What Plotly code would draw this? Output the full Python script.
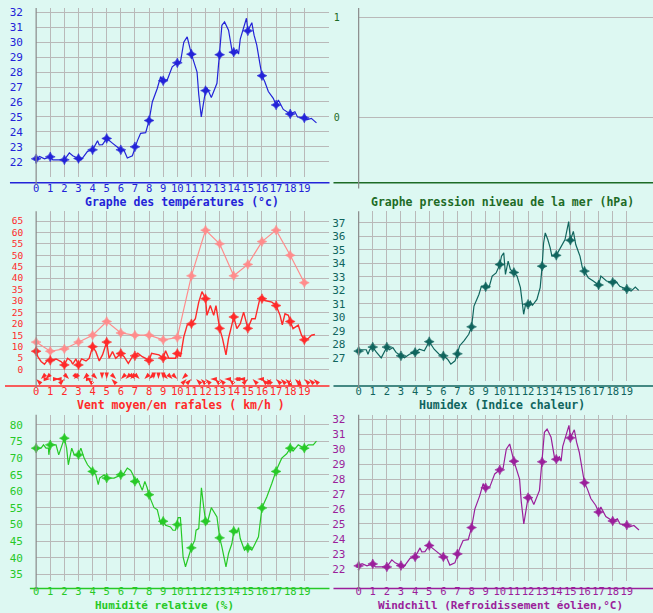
import plotly.graph_objects as go

# ---------------- data ----------------
hours = list(range(20))
hour_labels = [str(h) for h in hours]

temp_t = [0, 0.24, 0.59, 0.82, 1.0, 1.18, 2.0, 2.35, 2.59, 3.0, 3.17, 3.64, 4.0, 4.35, 4.47, 4.7, 5.0, 5.4, 5.76, 6.0,
          6.23, 6.46, 6.82, 7.0, 7.17, 7.4, 7.76, 8.0, 8.23, 8.58, 8.82, 9.0, 9.3, 9.64, 10.0, 10.23, 10.46, 10.7, 11.0,
          11.4, 11.52, 11.7, 11.87, 12.0, 12.1, 12.41, 12.81, 13.0, 13.16, 13.35, 13.63, 13.87, 14.0, 14.22, 14.34,
          14.46, 14.69, 14.9, 15.0, 15.1, 15.28, 15.44, 15.63, 15.87, 16.0, 16.2, 16.45, 16.8, 17.0, 17.16, 17.51,
          18.0, 18.33, 18.52, 19.0, 19.16, 19.5, 19.86]
temp_v = [22.2, 22.35, 22.2, 22.3, 22.33, 22.13, 22.13, 22.6, 22.4, 22.22, 22.1, 22.7, 22.8, 23.4, 23.13, 23.15, 23.56,
          23.25, 22.95, 22.8, 22.75, 22.25, 22.4, 23.0, 23.4, 23.9, 23.95, 24.76, 26.0, 26.9, 27.7, 27.42, 27.5, 28.35,
          28.62, 28.7, 30.0, 30.35, 29.2, 28.0, 26.5, 25.0, 26.2, 26.76, 26.96, 26.3, 27.25, 29.16, 31.13, 31.35, 30.8,
          29.47, 29.33, 29.5, 29.2, 30.2, 30.9, 31.6, 30.76, 31.0, 31.3, 30.47, 29.8, 28.47, 27.76, 27.35, 26.7, 26.24,
          25.8, 26.13, 25.5, 25.2, 25.35, 25.0, 24.93, 24.8, 24.9, 24.6]
temp_hourly = [22.2, 22.33, 22.13, 22.22, 22.8, 23.56, 22.8, 23.0, 24.76, 27.42, 28.62, 29.2, 26.76, 29.16, 29.33,
               30.76, 27.76, 25.8, 25.2, 24.93]

pressure_ticks = [0, 1]

wind_t = [0, 0.12, 0.35, 0.59, 0.82, 1.0, 1.41, 1.76, 2.0, 2.23, 2.47, 2.59, 2.82, 3.0, 3.22, 3.53, 3.76, 4.0, 4.23,
          4.47, 4.7, 5.0, 5.17, 5.41, 5.64, 6.0, 6.23, 6.53, 6.82, 7.0, 7.2, 7.52, 7.76, 8.0, 8.18, 8.7, 9.0, 9.17, 9.4,
          9.87, 10.0, 10.23, 10.46, 10.7, 11.0, 11.28, 11.52, 11.75, 12.0, 12.1, 12.34, 12.58, 12.74, 13.0, 13.2,
          13.45, 13.63, 13.87, 14.0, 14.22, 14.46, 14.7, 14.86, 15.0, 15.28, 15.52, 15.87, 16.0, 16.2, 16.7, 17.0,
          17.28, 17.44, 17.63, 17.87, 18.0, 18.2, 18.57, 18.8, 19.0, 19.28, 19.51, 19.75]
wind_v = [8, 5.6, 3.5, 2.3, 4.2, 4, 4.6, 3.5, 2, 4.9, 3.75, 2.3, 4.6, 2, 4.6, 3.75, 4.9, 10, 7.8, 3.75, 6.4, 12, 4.9,
          7.8, 4.9, 7, 5.6, 2.7, 5.6, 6, 7.1, 5.6, 4.9, 4, 7.1, 6.4, 5, 8.2, 4.9, 4.9, 7, 5.6, 14.3, 19.4, 20, 22.2,
          29.5, 34.1, 31, 23.7, 28, 23.7, 28, 18, 13.6, 6.4, 13.6, 19.4, 23, 17.9, 20.1, 25.1, 21.5, 18, 22.2, 22.2,
          31.6, 31, 30.2, 29.5, 28, 23.7, 19.6, 24.4, 23.7, 21, 17.9, 19.4, 15, 13, 13.6, 15, 15.3]
wind_hourly = [8, 4, 2, 2, 10, 12, 7, 6, 4, 5, 7, 20, 31, 18, 23, 18, 31, 28, 21, 13]
gust_hourly = [12, 8, 9, 12, 15, 21, 16, 15, 15, 13, 14, 41, 61, 55, 41, 46, 56, 61, 50, 38]
wind_ticks = [0, 5, 10, 15, 20, 25, 30, 35, 40, 45, 50, 55, 60, 65]
# wind direction every 20 minutes (arrow glyph = direction of the drawn arrow)
wind_dir_t = [i / 3 for i in range(60)]
wind_dir = list("↖↙↙→←→↗↘↙↘↙↖→↘↓↓↖↘↙↙↙↘↘↙↙↓↓↓↘↘↘↙↗↗↖↖↖←↖↖←↖←←→↗↖←↖↖↗↖↖↖↑↖↑↖↖↖↖")
arrow_angle = {"↑": 0, "↗": 45, "→": 90, "↘": 135, "↓": 180, "↙": 225, "←": 270, "↖": 315}

hx_t = [0, 0.19, 0.54, 0.66, 0.78, 1.0, 1.24, 1.6, 2.0, 2.18, 2.42, 2.65, 3.0, 3.24, 3.6, 4.0, 4.3, 4.65, 5.0, 5.35,
        5.7, 6.0, 6.3, 6.53, 6.83, 7.0, 7.16, 7.46, 7.8, 8.0, 8.17, 8.52, 8.7, 9.0, 9.23, 9.46, 9.74, 10.0, 10.12,
        10.28, 10.4, 10.59, 10.75, 11.0, 11.22, 11.46, 11.69, 11.8, 12.0, 12.16, 12.32, 12.63, 12.86, 13.0, 13.1,
        13.22, 13.4, 13.57, 13.69, 14.0, 14.15, 14.39, 14.62, 14.88, 15.0, 15.21, 15.38, 15.68, 15.85, 16.0, 16.27,
        16.62, 17.0, 17.16, 17.56, 18.0, 18.15, 18.5, 19.0, 19.3, 19.6, 19.84]
hx_v = [27.5, 27.6, 27.6, 27.27, 27.6, 27.8, 27.44, 27.0, 27.8, 27.6, 27.76, 27.4, 27.15, 27.0, 27.27, 27.4, 27.64,
        27.52, 28.2, 27.64, 27.27, 27.15, 26.9, 26.53, 26.78, 27.3, 27.9, 28.26, 28.75, 29.3, 30.84, 31.7, 32.32, 32.27,
        32.2, 33.06, 33.3, 33.92, 34.54, 34.78, 33.18, 34.17, 33.55, 33.33, 33.06, 32.2, 30.23, 30.84, 30.97, 31.2,
        30.9, 31.33, 32.2, 33.8, 35.5, 36.26, 35.77, 35.15, 34.54, 34.6, 34.9, 35.4, 35.77, 37.1, 35.72, 36.38, 35.4,
        34.54, 33.67, 33.43, 32.94, 32.7, 32.4, 33.06, 32.7, 32.6, 32.76, 32.3, 32.1, 31.95, 32.25, 32.0]
hx_hourly = [27.5, 27.8, 27.8, 27.15, 27.4, 28.2, 27.15, 27.3, 29.3, 32.27, 33.92, 33.33, 30.97, 33.8, 34.6, 35.72,
             33.43, 32.4, 32.6, 32.1]

rh_t = [0, 0.35, 0.52, 0.7, 0.87, 0.9, 1.0, 1.41, 1.6, 1.83, 2.0, 2.16, 2.28, 2.52, 2.7, 3.0, 3.17, 3.4, 3.64, 4.0,
        4.23, 4.4, 4.5, 4.82, 5.0, 5.52, 6.0, 6.2, 6.46, 6.7, 6.86, 7.0, 7.17, 7.4, 7.52, 7.7, 7.87, 8.0, 8.35, 8.58,
        8.7, 8.84, 9.0, 9.17, 9.52, 9.69, 9.87, 10.06, 10.22, 10.34, 10.41, 10.58, 10.77, 11.0, 11.24, 11.33, 11.52,
        11.64, 11.71, 11.87, 12.0, 12.1, 12.22, 12.41, 12.81, 13.0, 13.16, 13.45, 13.63, 13.87, 14.0, 14.22, 14.34,
        14.46, 14.76, 15.0, 15.28, 15.5, 15.75, 16.0, 16.34, 16.69, 17.0, 17.4, 17.75, 18.0, 18.2, 18.57, 19.0, 19.28,
        19.63, 19.86]
rh_v = [73, 73, 74, 73, 73, 71, 74, 74, 71, 74, 76, 73, 68, 73, 71, 71, 73, 70, 68, 66.2, 65, 62, 64, 65, 64, 64, 65,
        65.3, 67, 66.3, 65, 63.1, 63.8, 61.8, 60.3, 63, 61, 58.8, 55.1, 54.5, 52.3, 50, 51.3, 49.8, 49.3, 48.3, 48.3,
        52.1, 52.1, 45.8, 40.3, 37.3, 39.8, 43.1, 45.3, 48.3, 48.8, 58.3, 61.1, 55.3, 51.1, 50.1, 52.3, 55.1, 52.3,
        46.1, 43.3, 37.3, 41.3, 44.3, 48.1, 47.5, 49.1, 45.8, 42.3, 43.2, 42.3, 44.3, 46.3, 55.1, 58.3, 62.3, 66.2, 70,
        71.3, 73, 72.1, 74, 73, 74, 74, 75.1]
rh_hourly = [73, 74, 76, 71, 66, 64, 65, 63, 59, 51, 50, 43, 51, 46, 48, 43, 55, 66, 73, 73]
rh_ticks = [35, 40, 45, 50, 55, 60, 65, 70, 75, 80]

wc_t = [0, 0.24, 0.59, 0.82, 1.0, 1.18, 2.0, 2.35, 2.59, 3.0, 3.17, 3.64, 4.0, 4.35, 4.47, 4.7, 5.0, 5.4, 5.76, 6.0,
        6.23, 6.46, 6.82, 7.0, 7.17, 7.4, 7.76, 8.0, 8.23, 8.58, 8.82, 9.0, 9.3, 9.64, 10.0, 10.23, 10.46, 10.7, 11.0,
        11.4, 11.52, 11.7, 11.87, 12.0, 12.1, 12.41, 12.81, 13.0, 13.16, 13.35, 13.63, 13.87, 14.0, 14.22, 14.34,
        14.46, 14.69, 14.9, 15.0, 15.1, 15.28, 15.44, 15.63, 15.87, 16.0, 16.2, 16.45, 16.8, 17.0, 17.16, 17.51,
        18.0, 18.33, 18.52, 19.0, 19.16, 19.5, 19.86]
wc_v = [22.2, 22.35, 22.2, 22.3, 22.33, 22.13, 22.13, 22.6, 22.4, 22.22, 22.1, 22.7, 22.8, 23.4, 23.13, 23.15, 23.56,
        23.25, 22.95, 22.8, 22.75, 22.25, 22.4, 23.0, 23.4, 23.9, 23.95, 24.76, 26.0, 26.9, 27.7, 27.42, 27.5, 28.35,
        28.62, 28.7, 30.0, 30.35, 29.2, 28.0, 26.5, 25.0, 26.2, 26.76, 26.96, 26.3, 27.25, 29.16, 31.13, 31.35, 30.8,
        29.47, 29.33, 29.5, 29.2, 30.2, 30.9, 31.6, 30.76, 31.0, 31.3, 30.47, 29.8, 28.47, 27.76, 27.35, 26.7, 26.24,
        25.8, 26.13, 25.5, 25.2, 25.35, 25.0, 24.93, 24.8, 24.9, 24.6]
wc_hourly = [22.2, 22.33, 22.13, 22.22, 22.8, 23.56, 22.8, 23.0, 24.76, 27.42, 28.62, 29.2, 26.76, 29.16, 29.33,
             30.76, 27.76, 25.8, 25.2, 24.93]

deg_ticks_a = [22, 23, 24, 25, 26, 27, 28, 29, 30, 31, 32]
hx_ticks = [27, 28, 29, 30, 31, 32, 33, 34, 35, 36, 37]

# ---------------- styling / layout helpers ----------------
W, H = 653, 613
BG = "#ddf8f2"
GRID = "#b9b9b9"
AXGRAY = "#8a8a8a"
FONT = "DejaVu Sans Mono"
HOUR_PX = 14.18

C_TEMP = "#2323d8"
C_PRES = "#1d6b26"
C_WIND = "#ff2a2a"
C_GUST = "#ff8c8c"
C_HX = "#10655e"
C_RH = "#27c927"
C_WC = "#9b1f9b"


def px(x):
    return x / W


def py(y):
    return 1 - y / H


fig = go.Figure()

# panel definitions: (axis suffix, x dom left, x dom right, y top px, y bottom px, ref value, ref px, px per unit)
panels = {
    "A": ("", 33.3, 328, 6, 176, 32, 10.3, 15.0),
    "B": ("2", 357.3, 653, 6, 176, 1, 16.0, 100.0),
    "C": ("3", 33.3, 328, 210, 380, 0, 368.7, 2.292),
    "D": ("4", 357.3, 653, 210, 380, 37, 221.7, 13.53),
    "E": ("5", 33.3, 328, 414, 581, 80, 424.3, 3.333),
    "F": ("6", 357.3, 653, 414, 581, 32, 418.7, 15.0),
}


def line_trace(key, x, y, color, width=1.2):
    s = panels[key][0]
    return go.Scatter(x=x, y=y, mode="lines", line=dict(color=color, width=width),
                      xaxis="x" + s, yaxis="y" + s, cliponaxis=False, hoverinfo="skip", showlegend=False)


def marker_trace(key, x, y, color, mode="markers", lw=1.2):
    s = panels[key][0]
    return go.Scatter(x=x, y=y, mode=mode, line=dict(color=color, width=lw),
                      marker=dict(symbol="star-diamond", size=7, color=color, line=dict(width=0.6, color=color)),
                      xaxis="x" + s, yaxis="y" + s, cliponaxis=False, hoverinfo="skip", showlegend=False)


# Temperature
fig.add_trace(line_trace("A", temp_t, temp_v, C_TEMP))
fig.add_trace(marker_trace("A", hours, temp_hourly, C_TEMP))
# Pressure (empty)
fig.add_trace(go.Scatter(x=[], y=[], xaxis="x2", yaxis="y2", showlegend=False))
# Wind
fig.add_trace(marker_trace("C", hours, gust_hourly, C_GUST, mode="lines+markers", lw=1.2))
fig.add_trace(line_trace("C", wind_t, wind_v, C_WIND, width=1.4))
fig.add_trace(marker_trace("C", hours, wind_hourly, C_WIND))
fig.add_trace(go.Scatter(x=wind_dir_t, y=[-4.2] * len(wind_dir_t), mode="markers",
                         marker=dict(symbol="arrow", size=7, color=C_WIND,
                                     angle=[arrow_angle[d] for d in wind_dir], line=dict(width=0)),
                         xaxis="x3", yaxis="y3", cliponaxis=False, hoverinfo="skip", showlegend=False))
# Humidex
fig.add_trace(line_trace("D", hx_t, hx_v, C_HX))
fig.add_trace(marker_trace("D", hours, hx_hourly, C_HX))
# Humidity
fig.add_trace(line_trace("E", rh_t, rh_v, C_RH))
fig.add_trace(marker_trace("E", hours, rh_hourly, C_RH))
# Windchill
fig.add_trace(line_trace("F", wc_t, wc_v, C_WC))
fig.add_trace(marker_trace("F", hours, wc_hourly, C_WC))

ytick_spec = {
    "A": (deg_ticks_a, C_TEMP),
    "B": (pressure_ticks, C_PRES),
    "C": (wind_ticks, C_WIND),
    "D": (hx_ticks, C_HX),
    "E": (rh_ticks, C_RH),
    "F": (deg_ticks_a, C_WC),
}
xcolor = {"A": C_TEMP, "B": C_PRES, "C": C_WIND, "D": C_HX, "E": C_RH, "F": C_WC}
ylen = {"A": 10, "B": 16, "C": 10, "D": 10, "E": 10, "F": 10}
yfs = {"A": 11, "B": 10, "C": 9.5, "D": 11, "E": 11, "F": 11}
xlen = {"A": 1, "B": 1, "C": 1, "D": 1, "E": 0, "F": 0}

layout = dict(width=W, height=H, margin=dict(l=0, r=0, t=0, b=0),
              paper_bgcolor=BG, plot_bgcolor=BG, showlegend=False)

for key, (s, xl, xr, yt, yb, v0, p0, sc) in panels.items():
    xr_val = (xr - xl) / HOUR_PX
    xa = dict(domain=[px(xl), px(xr)], range=[0, xr_val], showline=False, zeroline=False,
              tickmode="array", tickvals=hours if key != "B" else [],
              ticktext=hour_labels if key != "B" else [],
              showgrid=(key != "B"), gridcolor=GRID, gridwidth=1,
              ticks="outside", ticklen=xlen[key], tickcolor=BG, tickwidth=1, tickangle=0,
              tickfont=dict(family=FONT, size=10.5, color=xcolor[key]),
              anchor="y" + s, fixedrange=True)
    ymin = v0 - (yb - p0) / sc
    ymax = v0 + (p0 - yt) / sc
    tv, col = ytick_spec[key]
    ya = dict(domain=[py(yb), py(yt)], range=[ymin, ymax], showline=False, zeroline=False,
              tickmode="array", tickvals=tv, ticktext=[str(v) for v in tv],
              showgrid=True, gridcolor=GRID, gridwidth=1,
              ticks="outside", ticklen=ylen[key], tickcolor=BG, tickwidth=1,
              tickfont=dict(family=FONT, size=yfs[key], color=col),
              anchor="x" + s, fixedrange=True)
    layout["xaxis" + s] = xa
    layout["yaxis" + s] = ya

shapes = []
# x-axis baselines (coloured) and y-axis lines (grey)
baselines = [("A", 7, 328, 181.3), ("B", 332, 653, 181.3), ("C", 2, 328, 385.3),
             ("D", 332, 653, 385.3), ("E", 27, 328, 588.3), ("F", 332, 653, 588.3)]
for key, x0, x1, yy in baselines:
    shapes.append(dict(type="line", xref="paper", yref="paper", x0=px(x0), x1=px(x1), y0=py(yy), y1=py(yy),
                       line=dict(color=xcolor[key], width=1.5)))
vlines = [(33.3, 6, 183), (357.3, 6, 187), (33.3, 210, 387), (357.3, 210, 387), (33.3, 414, 590), (357.3, 414, 590)]
for xx, y0, y1 in vlines:
    shapes.append(dict(type="line", xref="paper", yref="paper", x0=px(xx), x1=px(xx), y0=py(y0), y1=py(y1),
                       line=dict(color=AXGRAY, width=1.2)))
layout["shapes"] = shapes

titles = [
    ("Graphe des températures (°c)", 180, 200.8, C_TEMP, "middle", 11.5),
    ("Graphe pression niveau de la mer (hPa)", 502, 200.8, C_PRES, "middle", 11.5),
    ("Vent moyen/en rafales ( km/h )", 179, 404.5, C_WIND, "middle", 11.5),
    ("Humidex (Indice chaleur)", 501, 404.5, C_HX, "middle", 11.5),
    ("Humidité relative (%)", 162.5, 613, C_RH, "bottom", 11),
    ("Windchill (Refroidissement éolien,°C)", 499.5, 613, C_WC, "bottom", 11),
]
layout["annotations"] = [
    dict(text="<b>" + t + "</b>", x=px(x), y=py(y), xref="paper", yref="paper", showarrow=False,
         xanchor="center", yanchor=ya_, borderpad=0, font=dict(family=FONT, size=fs, color=c))
    for t, x, y, c, ya_, fs in titles
]

fig.update_layout(**layout)
fig.write_html("out.html")
